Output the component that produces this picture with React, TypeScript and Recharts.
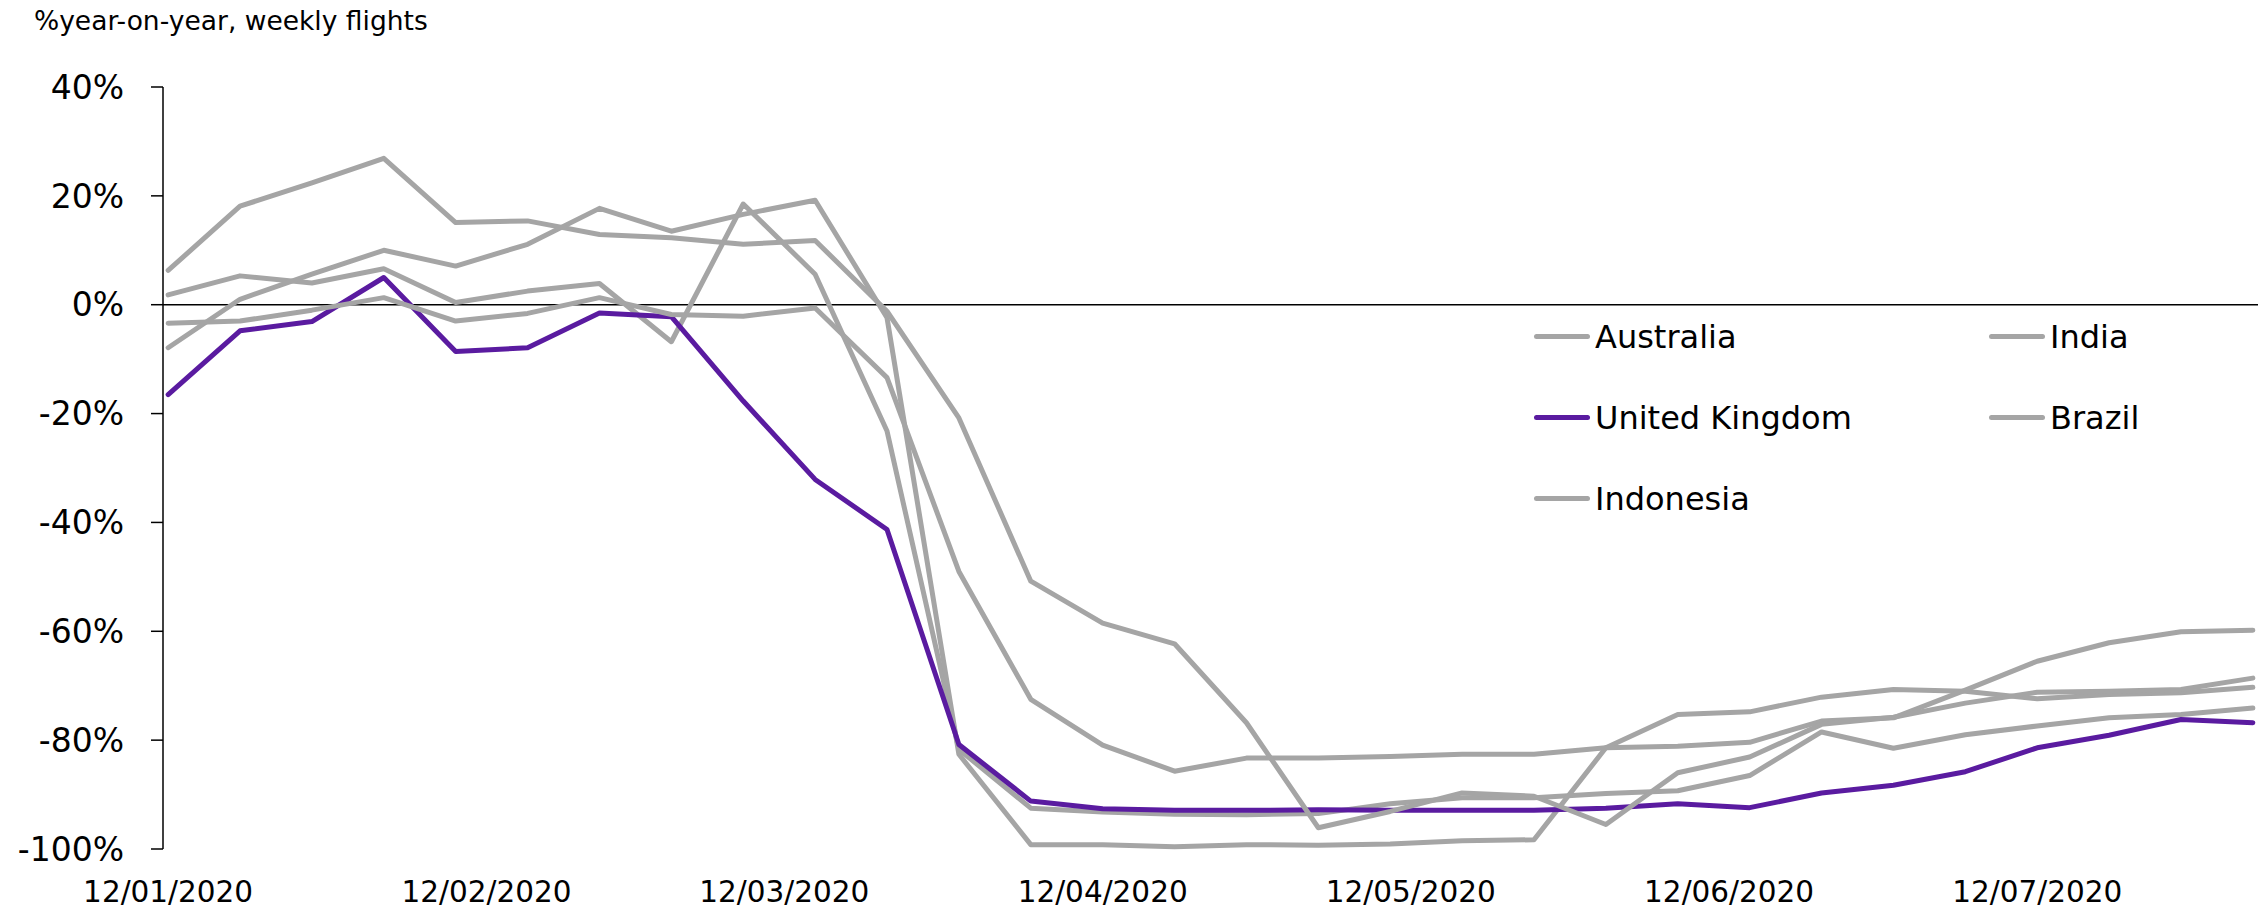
import { LineChart, Line, XAxis, YAxis, ReferenceLine, Legend } from "recharts";

// weekly observations, dd/mm/yyyy
const weeks = [
  "12/01/2020", "19/01/2020", "26/01/2020", "02/02/2020", "09/02/2020", "16/02/2020",
  "23/02/2020", "01/03/2020", "08/03/2020", "15/03/2020", "22/03/2020", "29/03/2020",
  "05/04/2020", "12/04/2020", "19/04/2020", "26/04/2020", "03/05/2020", "10/05/2020",
  "17/05/2020", "24/05/2020", "31/05/2020", "07/06/2020", "14/06/2020", "21/06/2020",
  "28/06/2020", "05/07/2020", "12/07/2020", "19/07/2020", "26/07/2020", "02/08/2020",
];

// % change in weekly flights vs the same week a year earlier
const australia = [
  1.8, 5.3, 4.0, 6.6, 0.4, 2.5, 3.9, -6.8, 18.5, 5.6, -23.2, -81.7, -92.5, -93.2, -93.6,
  -93.7, -93.5, -91.7, -90.6, -90.6, -89.8, -89.3, -86.5, -78.5, -81.5, -79.0, -77.4, -75.9, -75.3, -74.1,
];
const india = [
  -7.9, 1.0, 5.6, 10.0, 7.1, 11.1, 17.7, 13.5, 16.6, 19.2, -2.4, -82.6, -99.2, -99.2, -99.6,
  -99.2, -99.3, -99.1, -98.5, -98.3, -81.4, -75.3, -74.8, -72.1, -70.7, -71.0, -72.4, -71.6, -71.3, -70.3,
];
const unitedKingdom = [
  -16.5, -4.8, -3.1, 5.0, -8.6, -7.9, -1.5, -2.2, -17.7, -32.1, -41.3, -80.8, -91.2, -92.6, -92.9,
  -92.9, -92.8, -92.9, -92.9, -92.9, -92.5, -91.7, -92.4, -89.7, -88.3, -85.8, -81.4, -79.1, -76.2, -76.8,
];
const brazil = [
  -3.4, -3.0, -1.0, 1.3, -3.0, -1.6, 1.3, -1.8, -2.1, -0.6, -13.4, -49.0, -72.5, -80.9, -85.7,
  -83.3, -83.3, -83.0, -82.6, -82.6, -81.4, -81.1, -80.4, -76.5, -75.9, -70.8, -65.5, -62.1, -60.1, -59.8,
];
const indonesia = [
  6.3, 18.1, 22.4, 26.9, 15.1, 15.4, 12.9, 12.3, 11.1, 11.8, -1.2, -20.8, -50.8, -58.5, -62.3,
  -76.8, -96.1, -93.1, -89.7, -90.3, -95.5, -86.0, -83.1, -77.1, -75.8, -73.2, -71.2, -71.0, -70.7, -68.6,
];

const dateTicks = ["12/01/2020", "12/02/2020", "12/03/2020", "12/04/2020", "12/05/2020", "12/06/2020", "12/07/2020"];
const yTicks = [-100, -80, -60, -40, -20, 0, 20, 40];

const GREY = "#a5a5a5";
const PURPLE = "#5a1ba0";
const FONT = "'DejaVu Sans', sans-serif";

const series = [
  { key: "australia", name: "Australia", values: australia, color: GREY },
  { key: "india", name: "India", values: india, color: GREY },
  { key: "uk", name: "United Kingdom", values: unitedKingdom, color: PURPLE },
  { key: "brazil", name: "Brazil", values: brazil, color: GREY },
  { key: "indonesia", name: "Indonesia", values: indonesia, color: GREY },
];

const dayOf = (s: string) => {
  const [d, m, y] = s.split("/").map(Number);
  return Date.UTC(y, m - 1, d) / 86400000;
};
const day0 = dayOf(weeks[0]);
// each date sits in the middle of its one-day slot, as on a date axis
const xOf = (s: string) => dayOf(s) - day0 + 0.5;

const data = weeks.map((w, i) => {
  const row: Record<string, number | string> = { x: xOf(w), date: w };
  series.forEach((s) => (row[s.key] = s.values[i]));
  return row;
});

const xMax = xOf(weeks[weeks.length - 1]) + 0.5;

// two-column legend, filled row by row in series order
function LegendBox({ payload }: any) {
  const items = [...(payload ?? [])].sort(
    (a: any, b: any) => series.findIndex((s) => s.name === a.value) - series.findIndex((s) => s.name === b.value)
  );
  return (
    <div style={{ display: "grid", gridTemplateColumns: "455px 260px", gridAutoRows: "81px", fontFamily: FONT }}>
      {items.map((p: any) => (
        <div key={p.value} style={{ display: "flex", alignItems: "center" }}>
          <span style={{ display: "inline-block", width: 56, height: 5, borderRadius: 2.5, background: p.color, marginRight: 5 }} />
          <span style={{ fontSize: 32, lineHeight: 1, color: "#000" }}>{p.value}</span>
        </div>
      ))}
    </div>
  );
}

export default function App() {
  return (
    <div style={{ position: "absolute", left: 0, top: 0, width: 2267, height: 908, background: "#fff", fontFamily: FONT }}>
      <div style={{ position: "absolute", left: 34, top: 8, fontSize: 26.5, lineHeight: 1, color: "#000" }}>
        %year-on-year, weekly flights
      </div>
      <LineChart width={2267} height={908} data={data} margin={{ top: 87, right: 9, bottom: 0, left: 0 }}>
        <XAxis
          type="number"
          dataKey="x"
          domain={[0, xMax]}
          ticks={dateTicks.map(xOf)}
          tickFormatter={(v: number) => dateTicks.find((t) => xOf(t) === v) ?? ""}
          interval={0}
          axisLine={false}
          tickLine={false}
          tickSize={0}
          tickMargin={32}
          height={59}
          tick={{ fontSize: 29.5, fill: "#000", fontFamily: FONT }}
        />
        <YAxis
          domain={[-100, 40]}
          ticks={yTicks}
          interval={0}
          width={163}
          tickFormatter={(v: number) => `${v}%`}
          axisLine={{ stroke: "#000", strokeWidth: 1.5 }}
          tickLine={{ stroke: "#000", strokeWidth: 1.5 }}
          tickSize={12}
          tickMargin={27}
          tick={{ fontSize: 33, fill: "#000", fontFamily: FONT }}
        />
        <ReferenceLine y={0} stroke="#000" strokeWidth={1.5} />
        {series.map((s) => (
          <Line
            key={s.key}
            type="linear"
            dataKey={s.key}
            name={s.name}
            stroke={s.color}
            strokeWidth={5}
            strokeLinejoin="round"
            strokeLinecap="round"
            dot={false}
            activeDot={false}
            isAnimationActive={false}
          />
        ))}
        <Legend
          layout="vertical"
          align="center"
          verticalAlign="middle"
          itemSorter={null}
          content={<LegendBox />}
          wrapperStyle={{ left: 1534, top: 296, width: 720, height: 243 }}
        />
      </LineChart>
    </div>
  );
}
